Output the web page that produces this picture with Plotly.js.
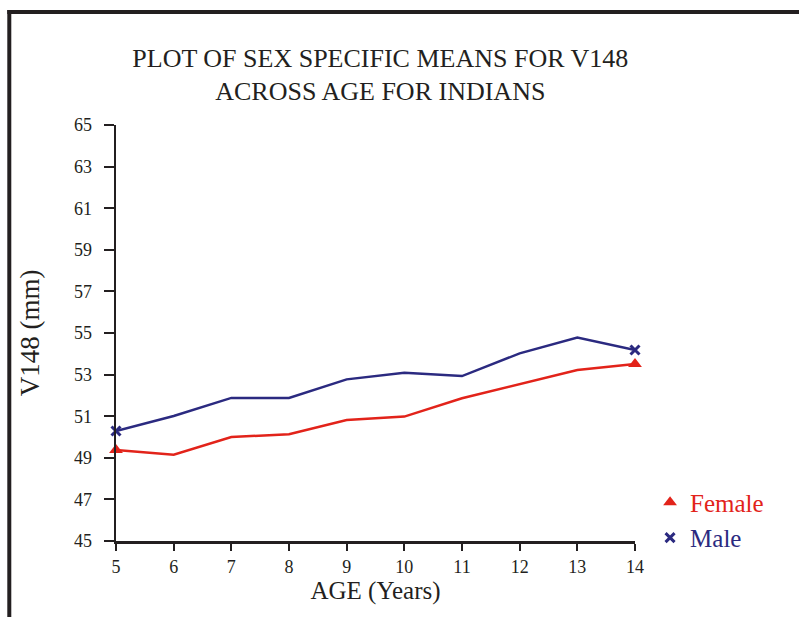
<!DOCTYPE html>
<html>
<head>
<meta charset="utf-8">
<script src="https://cdn.plot.ly/plotly-3.0.1.min.js"></script>
<style>
  html, body { margin: 0; padding: 0; background: #ffffff; }
  #chart { width: 799px; height: 617px; }
</style>
</head>
<body>
<div id="chart"></div>
<script>
// Data
var ages = [5, 6, 7, 8, 9, 10, 11, 12, 13, 14];
var femaleMeans = [49.38, 49.15, 50.00, 50.13, 50.82, 50.98, 51.86, 52.55, 53.22, 53.51];
var maleMeans   = [50.29, 51.01, 51.88, 51.88, 52.77, 53.09, 52.93, 54.02, 54.78, 54.18];
var yTicks = [45, 47, 49, 51, 53, 55, 57, 59, 61, 63, 65];
var xTicks = ages;

var RED = '#e2231a';
var NAVY = '#2b2a80';
var INK = '#231f20';
var FONT = 'Liberation Serif, Times New Roman, serif';

function ends(arr) { return [arr[0], arr[arr.length - 1]]; }

var traces = [
  { x: ages, y: femaleMeans, type: 'scatter', mode: 'lines',
    line: { color: RED, width: 2.5 }, showlegend: false, hoverinfo: 'x+y' },
  { x: ages, y: maleMeans, type: 'scatter', mode: 'lines',
    line: { color: NAVY, width: 2.5 }, showlegend: false, hoverinfo: 'x+y' },
  { x: ends(ages), y: ends(femaleMeans), type: 'scatter', mode: 'markers',
    name: '<span style="color:' + RED + '">Female</span>',
    marker: { symbol: 'triangle-up', size: 12, color: RED }, cliponaxis: false },
  { x: ends(ages), y: ends(maleMeans), type: 'scatter', mode: 'markers',
    name: '<span style="color:' + NAVY + '">Male</span>',
    marker: { symbol: 'x-thin', size: 9, color: NAVY, line: { color: NAVY, width: 3 } }, cliponaxis: false }
];

var layout = {
  width: 799, height: 617,
  margin: { l: 116, r: 164, t: 125, b: 76, pad: 0 },
  paper_bgcolor: '#ffffff', plot_bgcolor: '#ffffff',
  font: { family: FONT, color: INK },
  title: {
    text: 'PLOT OF SEX SPECIFIC MEANS FOR V148<br>ACROSS AGE FOR INDIANS',
    font: { family: FONT, size: 26, color: INK },
    xref: 'container', x: 0.476, xanchor: 'center',
    yref: 'container', y: 0.892, yanchor: 'top'
  },
  xaxis: {
    range: [5, 14], tickvals: xTicks, ticktext: xTicks.map(String),
    showline: true, linecolor: INK, linewidth: 2.5,
    ticks: 'outside', ticklen: 7, tickwidth: 2, tickcolor: INK,
    ticklabelstandoff: 1,
    showgrid: false, zeroline: false,
    tickfont: { family: FONT, size: 18, color: INK },
    title: { text: 'AGE (Years)', font: { family: FONT, size: 25, color: INK }, standoff: 2 },
    automargin: false
  },
  yaxis: {
    range: [45, 65], tickvals: yTicks, ticktext: yTicks.map(String),
    showline: true, linecolor: INK, linewidth: 2.5,
    ticks: 'outside', ticklen: 10, tickwidth: 2, tickcolor: INK,
    ticklabelstandoff: 8,
    showgrid: false, zeroline: false,
    tickfont: { family: FONT, size: 18, color: INK },
    title: { text: 'V148 (mm)', font: { family: FONT, size: 27, color: INK }, standoff: 27 },
    automargin: false
  },
  legend: {
    x: 1.029, xanchor: 'left', y: 0.148, yanchor: 'top',
    font: { family: FONT, size: 25, color: INK },
    bgcolor: 'rgba(0,0,0,0)', borderwidth: 0, tracegroupgap: 0
  },
  shapes: [
    { type: 'line', xref: 'paper', yref: 'paper',
      x0: -0.2095, x1: 1.34, y0: 1.2716, y1: 1.2716,
      line: { color: INK, width: 4 } },
    { type: 'line', xref: 'paper', yref: 'paper',
      x0: -0.2056, x1: -0.2056, y0: 1.2764, y1: -0.2,
      line: { color: INK, width: 4 } }
  ],
  showlegend: true
};

Plotly.newPlot('chart', traces, layout, { displayModeBar: false, staticPlot: true });
</script>
</body>
</html>
